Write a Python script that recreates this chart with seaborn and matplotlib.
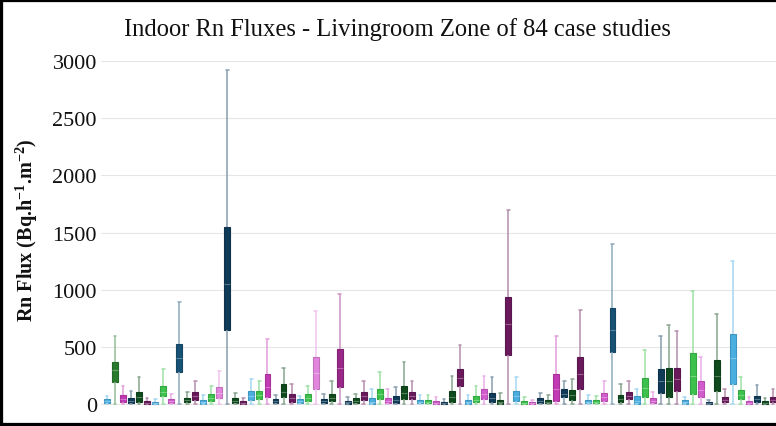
import numpy as np
import pandas as pd
import matplotlib
matplotlib.use("Agg")
import matplotlib.pyplot as plt
import matplotlib.colors as mcolors
from matplotlib.patches import Rectangle
import seaborn as sns

# ---- data ----
cases = [f"Case {i+1}" for i in range(84)]
whisker_low = [0] * 84
q1 = [10, 195, 20, 10, 15, 3, 2, 67, 10, 277, 15, 35, 5, 30, 52, 650, 10, 3, 38, 45,
      60, 10, 60, 20, 10, 30, 130, 10, 25, 150, 5, 10, 35, 5, 45, 10, 10, 45, 45, 10,
      10, 0, 0, 20, 160, 5, 15, 45, 15, 0, 430, 25, 0, 0, 10, 10, 25, 60, 40, 130,
      10, 10, 30, 460, 20, 45, 0, 60, 10, 100, 60, 115, 5, 85, 60, 0, 115, 20, 175, 45,
      0, 20, 0, 20]
median = [25, 300, 45, 30, 60, 12, 8, 110, 25, 400, 35, 70, 20, 55, 95, 1050, 25, 12, 70, 80,
          150, 25, 110, 50, 25, 55, 270, 25, 55, 320, 15, 25, 70, 20, 90, 25, 35, 100, 75, 22,
          22, 10, 8, 60, 230, 20, 40, 85, 50, 15, 700, 70, 10, 8, 25, 22, 130, 90, 80, 260,
          22, 22, 60, 650, 45, 75, 30, 140, 25, 200, 200, 220, 20, 250, 120, 8, 250, 40, 400, 80,
          10, 45, 10, 40]
q3 = [45, 365, 80, 55, 108, 25, 18, 160, 45, 525, 55, 110, 40, 90, 146, 1550, 50, 25, 117, 117,
      262, 45, 175, 88, 45, 90, 410, 45, 90, 480, 30, 50, 105, 50, 130, 50, 70, 160, 105, 40,
      40, 30, 20, 115, 305, 40, 70, 130, 95, 40, 940, 115, 30, 20, 50, 40, 260, 130, 125, 410,
      40, 40, 100, 840, 80, 110, 70, 230, 50, 305, 320, 320, 40, 450, 200, 20, 390, 65, 610, 125,
      30, 70, 25, 65]
whisker_high = [75, 600, 160, 115, 233, 55, 45, 305, 85, 890, 108, 205, 80, 160, 290, 2920, 95, 55, 220, 205,
                570, 80, 320, 175, 70, 160, 810, 90, 200, 960, 60, 90, 200, 130, 280, 130, 150, 365, 200, 80,
                80, 60, 45, 245, 515, 80, 160, 245, 235, 100, 1700, 235, 60, 40, 100, 80, 600, 200, 220, 820,
                80, 70, 200, 1400, 175, 200, 130, 470, 110, 600, 690, 640, 60, 990, 410, 40, 790, 130, 1250, 235,
                60, 165, 50, 130]

# ---- colours (style) ----
pal_keys = {
    "LB": "#4aaee0", "BG": "#3cc24c", "PK": "#d35ccd", "PL": "#e186dc", "MG": "#c23ab4",
    "NV": "#0f3b58", "NB": "#175275", "DG": "#0e4a1d", "G1": "#2a7a2e", "PU": "#6a1a5c",
    "MP": "#9a2888",
}
box_keys = ("LB G1 MG NV DG PU LB BG PK NB DG PU LB BG PL NV DG PU LB BG "
            "MG NV DG PU LB BG PL NV DG MP NV DG PU LB BG PK NV DG PU LB "
            "BG PK NV DG PU LB BG PK NV DG PU LB BG PK NV DG MG NV DG PU "
            "LB BG PK NB DG PU LB BG PK NV DG PU LB BG PK NV DG PU LB BG "
            "PK NV DG PU").split()
palette = {c: pal_keys[k] for c, k in zip(cases, box_keys)}

rows = []
for c, a, b, m, d, e in zip(cases, whisker_low, q1, median, q3, whisker_high):
    for v in (a, b, m, d, e):
        rows.append({"case": c, "flux": v})
df = pd.DataFrame(rows)

sns.set_theme(style="white")
plt.rcParams["font.family"] = ["Liberation Serif", "DejaVu Serif"]
plt.rcParams["mathtext.fontset"] = "custom"
plt.rcParams["mathtext.rm"] = "Liberation Serif"
plt.rcParams["mathtext.bf"] = "Liberation Serif:bold"

fig = plt.figure(figsize=(7.76, 4.27), dpi=100)
ax = fig.add_axes([101 / 776, 15 / 427, 1 - 101 / 776, (412 - 62) / 427])

sns.boxplot(data=df, x="case", y="flux", hue="case", order=cases, hue_order=cases,
            palette=palette, legend=False, whis=(0, 100), width=0.74,
            linewidth=0.9, fliersize=0, ax=ax)


def blend(col, f):
    r = np.array(mcolors.to_rgb(col))
    return tuple(r * (1 - f) + f)


def darker(col, f):
    return tuple(np.array(mcolors.to_rgb(col)) * (1 - f))


for i, cont in enumerate(ax.containers):
    col = palette[cases[i]]
    wc = blend(col, 0.5)
    for b in getattr(cont, "boxes", []):
        b.set_facecolor(col)
        b.set_edgecolor(darker(col, 0.15))
        b.set_linewidth(0.8)
    for w in getattr(cont, "whiskers", []):
        w.set_color(wc)
        w.set_linewidth(1.1)
    for cp in getattr(cont, "caps", []):
        cp.set_color(wc)
        cp.set_linewidth(1.1)
        xd = np.asarray(cp.get_xdata(), dtype=float)
        cx = xd.mean()
        cp.set_xdata([cx - 0.17, cx + 0.17])
    for md in getattr(cont, "medians", []):
        md.set_color(blend(col, 0.3))
        md.set_linewidth(0.8)

ax.set_xlim(-0.75, 83.38)
ax.set_ylim(-60, 3000)
ax.set_yticks([0, 500, 1000, 1500, 2000, 2500, 3000])
ax.set_yticklabels(["0", "500", "1000", "1500", "2000", "2500", "3000"], fontsize=16)
ax.tick_params(axis="y", length=0, pad=3, colors="#111111")
ax.set_xticks([])
ax.set_xlabel("")
ax.set_ylabel(r"Rn Flux (Bq.h$^{\mathbf{-1}}$.m$^{\mathbf{-2}}$)", fontsize=14.5,
              fontweight="bold", color="#111111")
ax.yaxis.set_label_coords(-61 / 675, 0.52)
ax.grid(axis="y", color="#e6e6e6", linewidth=0.8)
ax.set_axisbelow(True)
for s in ax.spines.values():
    s.set_visible(False)

fig.text(397 / 776, 1 - 30 / 427, "Indoor Rn Fluxes - Livingroom Zone of 84 case studies",
         ha="center", va="center", fontsize=17.7, color="#111111")

fig.add_artist(Rectangle((0, 0), 1.2, 1, transform=fig.transFigure, fill=False,
                         edgecolor="black", linewidth=4.5, clip_on=True))

fig.savefig("out.png", dpi=100)
